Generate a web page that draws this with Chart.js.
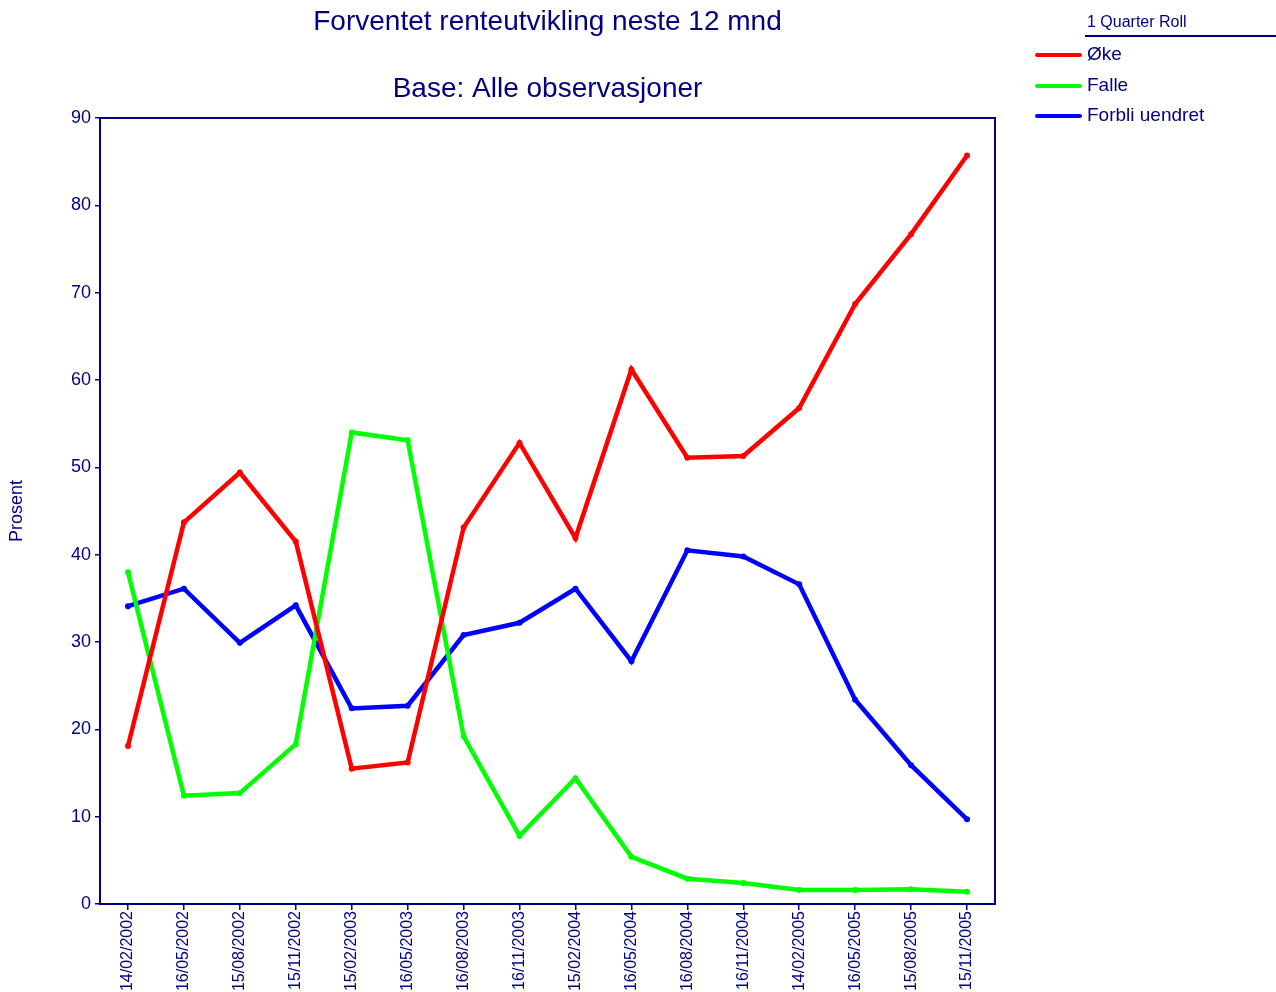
<!DOCTYPE html>
<html>
<head>
<meta charset="utf-8">
<script src="https://cdn.jsdelivr.net/npm/chart.js@4.4.0/dist/chart.umd.min.js"></script>
<style>
  html, body { margin: 0; padding: 0; background: #fff; }
  #wrap { width: 1276px; height: 992px; position: relative; }
</style>
</head>
<body>
<div id="wrap"><canvas id="myGraph"></canvas></div>
<script>
var titleLines = ['Forventet renteutvikling neste 12 mnd', 'Base: Alle observasjoner'];
var legendTitle = '1 Quarter Roll';

var dates = ['14/02/2002', '16/05/2002', '15/08/2002', '15/11/2002', '15/02/2003', '16/05/2003',
    '16/08/2003', '16/11/2003', '15/02/2004', '16/05/2004', '16/08/2004', '16/11/2004',
    '14/02/2005', '16/05/2005', '15/08/2005', '15/11/2005'];

var oke = [18.1, 43.7, 49.4, 41.5, 15.5, 16.2, 43.1, 52.8, 41.9, 61.2, 51.1, 51.3, 56.8, 68.7, 76.7, 85.7];
var falle = [38.0, 12.4, 12.7, 18.3, 54.0, 53.1, 19.2, 7.8, 14.4, 5.4, 2.9, 2.4, 1.6, 1.6, 1.7, 1.4];
var uendret = [34.1, 36.1, 29.9, 34.2, 22.4, 22.7, 30.8, 32.2, 36.1, 27.8, 40.5, 39.8, 36.6, 23.4, 15.9, 9.7];

var navy = '#000080';
var font = 'Arial, "Liberation Sans", sans-serif';

function series(label, data, color) {
    return {
        label: label,
        data: data,
        borderColor: color,
        backgroundColor: color,
        borderWidth: 4.5,
        pointRadius: 3,
        pointHoverRadius: 3,
        pointBorderWidth: 0,
        tension: 0
    };
}

// titles, frame and the legend on the right
var decor = {
    id: 'decor',
    afterDraw: function (chart) {
        var c = chart.ctx;
        var a = chart.chartArea;
        c.save();
        c.strokeStyle = navy;
        c.lineWidth = 2;
        c.strokeRect(a.left, a.top, a.right - a.left, a.bottom - a.top);

        c.fillStyle = navy;
        c.textAlign = 'center';
        c.textBaseline = 'middle';
        c.font = '28px ' + font;
        var cx = (a.left + a.right) / 2;
        c.fillText(titleLines[0], cx, 22);
        c.fillText(titleLines[1], cx, 89);

        c.textAlign = 'left';
        c.font = '16px ' + font;
        c.fillText(legendTitle, 1087, 23);
        c.lineWidth = 2;
        c.beginPath();
        c.moveTo(1085, 36);
        c.lineTo(1276, 36);
        c.stroke();

        c.font = '19px ' + font;
        var ys = [55, 86, 116];
        chart.data.datasets.forEach(function (ds, i) {
            c.strokeStyle = ds.borderColor;
            c.lineWidth = 4;
            c.lineCap = 'round';
            c.beginPath();
            c.moveTo(1037, ys[i]);
            c.lineTo(1080, ys[i]);
            c.stroke();
            c.fillStyle = navy;
            c.fillText(ds.label, 1087, ys[i]);
        });
        c.restore();
    }
};

var ctx = document.getElementById('myGraph');
var myGraph = new Chart(ctx, {
    type: 'line',
    data: {
        labels: dates,
        datasets: [
            series('Øke', oke, '#ff0000'),
            series('Falle', falle, '#00ff00'),
            series('Forbli uendret', uendret, '#0000ff')
        ]
    },
    options: {
        responsive: true,
        maintainAspectRatio: false,
        animation: false,
        layout: { padding: { top: 118, right: 281, left: 0, bottom: 0 } },
        plugins: {
            legend: { display: false },
            title: { display: false },
            tooltip: { enabled: false }
        },
        scales: {
            x: {
                offset: true,
                afterFit: function (s) { s.height = 88; },
                border: { display: false },
                grid: { drawOnChartArea: false, drawTicks: true, tickLength: 6, color: navy, lineWidth: 1.5, offset: false },
                ticks: {
                    color: navy,
                    font: { family: font, size: 16 },
                    minRotation: 90,
                    maxRotation: 90,
                    padding: 1,
                    autoSkip: false
                }
            },
            y: {
                min: 0,
                max: 90,
                afterFit: function (s) { s.width = 100; },
                border: { display: false },
                grid: { drawOnChartArea: false, drawTicks: true, tickLength: 5, color: navy, lineWidth: 1.5 },
                ticks: {
                    stepSize: 10,
                    color: navy,
                    font: { family: font, size: 18 },
                    padding: 4
                },
                title: {
                    display: true,
                    text: 'Prosent',
                    color: navy,
                    font: { family: font, size: 18 },
                    padding: { top: 6, bottom: 0 }
                }
            }
        }
    },
    plugins: [decor]
});
</script>
</body>
</html>
